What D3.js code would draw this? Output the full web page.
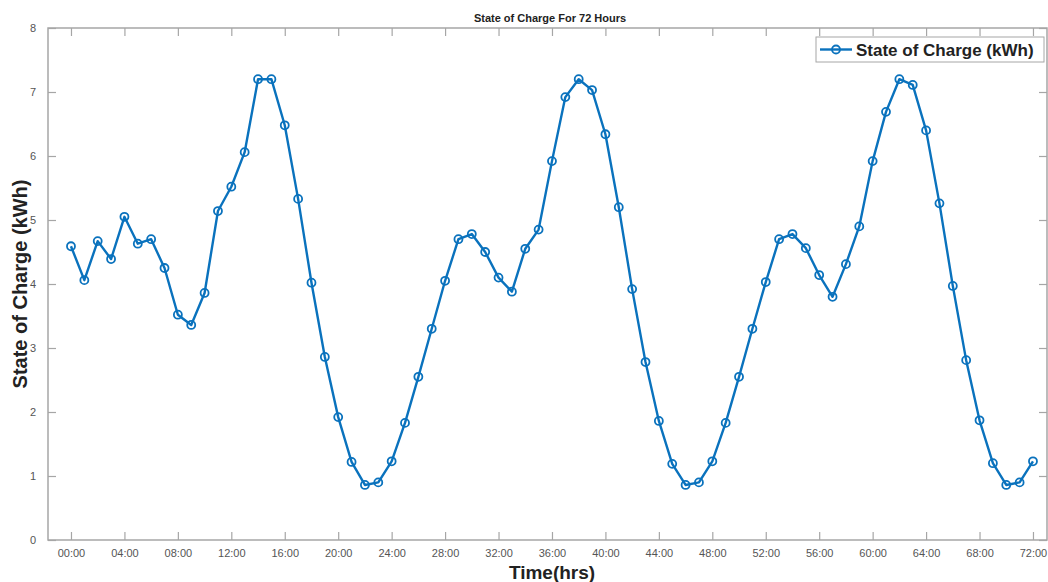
<!DOCTYPE html>
<html>
<head>
<meta charset="utf-8">
<script src="https://cdn.jsdelivr.net/npm/d3@7"></script>
<style>
  body { margin: 0; background: #fff; }
  svg { font-family: "Liberation Sans", Arial, sans-serif; }
</style>
</head>
<body>
<div id="chart-area"></div>
<script>
// hourly state of charge, hour 0..72
var hours = d3.range(0, 73);
var soc = [4.59, 4.06, 4.67, 4.39, 5.05, 4.63, 4.70, 4.25, 3.52, 3.36,
           3.86, 5.14, 5.52, 6.06, 7.20, 7.20, 6.48, 5.33, 4.02, 2.86,
           1.92, 1.22, 0.86, 0.90, 1.23, 1.83, 2.55, 3.30, 4.05, 4.70,
           4.78, 4.50, 4.10, 3.88, 4.55, 4.85, 5.92, 6.92, 7.20, 7.03,
           6.34, 5.20, 3.92, 2.78, 1.86, 1.19, 0.86, 0.90, 1.23, 1.83,
           2.55, 3.30, 4.03, 4.70, 4.78, 4.56, 4.14, 3.80, 4.31, 4.90,
           5.92, 6.69, 7.20, 7.11, 6.40, 5.26, 3.97, 2.81, 1.87, 1.20,
           0.86, 0.90, 1.23];
var xTicks = d3.range(0, 73, 4);
var yTicks = [0, 1, 2, 3, 4, 5, 6, 7, 8];

var data = hours.map(function(h, i){ return { h: h, v: soc[i] }; });

var margin = { left: 48, right: 1, top: 28, bottom: 42 };
var width = 1048 - margin.left - margin.right,
    height = 582 - margin.top - margin.bottom;
var blue = "#0a72bd";
var axisGrey = "#a6a6a6";

var svg = d3.select("#chart-area")
    .append("svg")
    .attr("width", 1048)
    .attr("height", 582);

var g = svg.append("g")
    .attr("transform", "translate(" + margin.left + ", " + margin.top + ")");

var x = d3.scaleLinear()
    .domain([-1.72, 73.05])
    .range([0, width]);

var y = d3.scaleLinear()
    .domain([0, 8])
    .range([height, 0]);

// axes box
g.append("rect")
    .attr("width", width)
    .attr("height", height)
    .attr("fill", "none")
    .attr("stroke", axisGrey)
    .attr("stroke-width", 1.5);

function pad(n){ return (n < 10 ? "0" : "") + n + ":00"; }

// bottom axis
var xAxis = d3.axisBottom(x).tickValues(xTicks).tickSize(-8).tickPadding(9)
    .tickFormat(pad);
g.append("g")
    .attr("transform", "translate(0," + height + ")")
    .call(xAxis)
    .call(function(a){ a.select(".domain").remove(); });

// top ticks
g.append("g")
    .call(d3.axisTop(x).tickValues(xTicks).tickSize(-8).tickFormat(""))
    .call(function(a){ a.select(".domain").remove(); });

// left axis
g.append("g")
    .call(d3.axisLeft(y).tickValues(yTicks).tickSize(-8).tickPadding(12))
    .call(function(a){ a.select(".domain").remove(); });

// right ticks
g.append("g")
    .attr("transform", "translate(" + width + ",0)")
    .call(d3.axisRight(y).tickValues(yTicks).tickSize(-8).tickFormat(""))
    .call(function(a){ a.select(".domain").remove(); });

g.selectAll(".tick line").attr("stroke", axisGrey).attr("stroke-width", 1.2);
g.selectAll(".tick text")
    .attr("fill", "#555")
    .style("font-size", "11px");

// line
var line = d3.line()
    .x(function(d){ return x(d.h); })
    .y(function(d){ return y(d.v); });

g.append("path")
    .datum(data)
    .attr("d", line)
    .attr("fill", "none")
    .attr("stroke", blue)
    .attr("stroke-width", 2.4)
    .attr("stroke-linejoin", "round");

g.selectAll("circle.pt")
    .data(data)
    .enter()
    .append("circle")
    .attr("class", "pt")
    .attr("cx", function(d){ return x(d.h); })
    .attr("cy", function(d){ return y(d.v); })
    .attr("r", 4)
    .attr("fill", "none")
    .attr("stroke", blue)
    .attr("stroke-width", 1.8);

// title and labels
svg.append("text")
    .attr("x", 550)
    .attr("y", 22)
    .attr("text-anchor", "middle")
    .style("font-size", "11px")
    .style("font-weight", "bold")
    .attr("fill", "#222")
    .text("State of Charge For 72 Hours");

svg.append("text")
    .attr("x", 552)
    .attr("y", 579)
    .attr("text-anchor", "middle")
    .style("font-size", "19px")
    .style("font-weight", "bold")
    .attr("fill", "#222")
    .text("Time(hrs)");

svg.append("text")
    .attr("transform", "translate(27," + (margin.top + height / 2) + ") rotate(-90)")
    .attr("text-anchor", "middle")
    .style("font-size", "20px")
    .style("font-weight", "bold")
    .attr("fill", "#222")
    .text("State of Charge (kWh)");

// legend
var legend = svg.append("g")
    .attr("transform", "translate(816,37)");
legend.append("rect")
    .attr("width", 228)
    .attr("height", 25)
    .attr("fill", "#fff")
    .attr("stroke", axisGrey)
    .attr("stroke-width", 1);
legend.append("line")
    .attr("x1", 4).attr("x2", 36)
    .attr("y1", 12.5).attr("y2", 12.5)
    .attr("stroke", blue)
    .attr("stroke-width", 2.4);
legend.append("circle")
    .attr("cx", 20).attr("cy", 12.5).attr("r", 4)
    .attr("fill", "none")
    .attr("stroke", blue)
    .attr("stroke-width", 1.8);
legend.append("text")
    .attr("x", 40)
    .attr("y", 19)
    .style("font-size", "17px")
    .style("font-weight", "bold")
    .attr("fill", "#222")
    .text("State of Charge (kWh)");
</script>
</body>
</html>
